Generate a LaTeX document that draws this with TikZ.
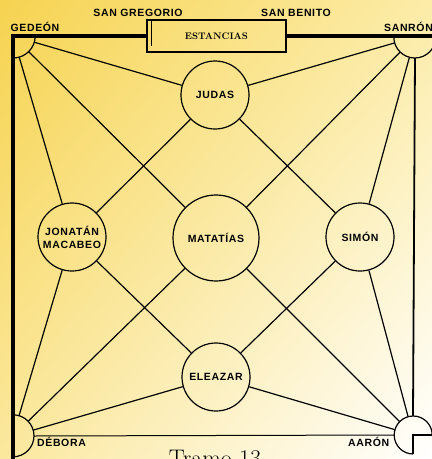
\documentclass[tikz,border=0pt]{standalone}
\usepackage{fontspec}
\setsansfont{Liberation Sans}[LetterSpace=6]
\usetikzlibrary{shadings}
\definecolor{oroA}{RGB}{246,211,80}
\definecolor{oroB}{RGB}{252,236,168}
\definecolor{oroC}{RGB}{251,232,158}
\tikzset{
	santo/.style={circle,draw,line width=1.2pt,inner sep=0pt,minimum size=68pt,
		font=\sffamily\bfseries\fontsize{10.5}{13}\selectfont,align=center},
	esquina/.style={circle,inner sep=0pt},
	union/.style={line width=1.2pt},
	rotulo/.style={font=\sffamily\bfseries\fontsize{10.5}{12}\selectfont,inner sep=0pt},
}
\begin{document}
\begin{tikzpicture}[x=1pt,y=-1pt]
	
	% fondo
	\useasboundingbox (0,0) rectangle (432,459);
	\shade[upper left=oroA,upper right=oroB,lower left=oroC,lower right=white] (0,0) rectangle (432,459);

	% salas
	\node[santo] (judas) at (215,95) {JUDAS};
	\node[santo,minimum size=86pt] (matatias) at (216,238) {MATATÍAS};
	\node[santo] (jonatan) at (72,237) {JONATÁN\\MACABEO};
	\node[santo] (simon) at (360,237) {SIMÓN};
	\node[santo] (eleazar) at (216,377) {ELEAZAR};
	%%% esquinas
	\node[esquina,minimum size=44pt] (gedeon) at (13,36) {};
	\node[esquina,minimum size=42pt] (sanron) at (415,37) {};
	\node[esquina,minimum size=42pt] (debora) at (13,436) {};
	\node[esquina,minimum size=38pt] (aaron) at (413,435) {};
	\node[draw,line width=1.2pt,minimum width=139pt,minimum height=32pt,inner sep=0pt,
		font=\bfseries\fontsize{9.5}{11}\selectfont] (estancias) at (216.5,36) {ESTANCIAS};

	% muros
	\draw[line width=4pt] (13,459) -- (gedeon.center) -- (estancias.west);
	\draw[line width=4pt] (estancias.east) -- (432,36);
	\draw[line width=1.8pt] (sanron.south) -- (aaron.north);
	\draw[line width=1pt] (debora.east) -- (aaron.west);
	\draw[line width=1.3pt] ([xshift=5pt,yshift=-2pt]estancias.north west) -- ++(0,25);
	%%% arcos de las esquinas
	\draw[line width=1.2pt] (gedeon.east) arc[start angle=0,end angle=90,radius=22];
	\draw[line width=1.2pt] (sanron.west) arc[start angle=180,end angle=0,radius=21];
	\draw[line width=1.2pt] (debora.north) arc[start angle=-90,end angle=90,radius=21];
	\draw[line width=1.2pt] (aaron.east) arc[start angle=0,end angle=-270,radius=19];
	\draw[line width=2.5pt] (aaron.south) -- (aaron.center) -- (aaron.east);

	% pasillos
	\draw[union] (gedeon) -- (judas);
	\draw[union] (gedeon) -- (matatias);
	\draw[union] (gedeon) -- (jonatan);
	\draw[union] (sanron) -- (judas);
	\draw[union] (sanron) -- (matatias);
	\draw[union] (sanron) -- (simon);
	\draw[union] (debora) -- (jonatan);
	\draw[union] (debora) -- (matatias);
	\draw[union] (debora) -- (eleazar);
	\draw[union] (aaron) -- (simon);
	\draw[union] (aaron) -- (matatias);
	\draw[union] (aaron) -- (eleazar);
	%%% rombo
	\draw[union] (judas) -- (jonatan);
	\draw[union] (judas) -- (simon);
	\draw[union] (eleazar) -- (jonatan);
	\draw[union] (eleazar) -- (simon);

	% rotulos
	\node[rotulo] (lgedeon) at (35,27) {GEDEÓN};
	\node[rotulo] (lgregorio) at (138,13) {SAN GREGORIO};
	\node[rotulo] (lbenito) at (296,13) {SAN BENITO};
	\node[rotulo,anchor=west] (lsanron) at (384,27) {SANRÓN};
	\node[rotulo,anchor=west] (ldebora) at (37,442) {DÉBORA};
	\node[rotulo,anchor=west] (laaron) at (348,442) {AARÓN};
	\node[font=\fontsize{24}{26}\selectfont,anchor=base] (tramo) at (215,466) {Tramo 13};
\end{tikzpicture}
\end{document}
